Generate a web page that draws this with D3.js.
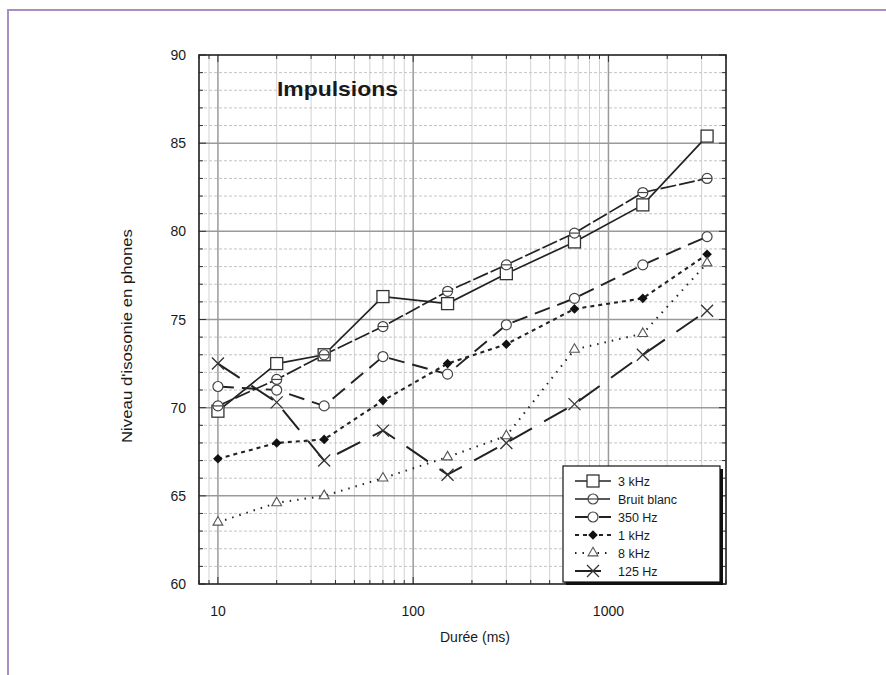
<!DOCTYPE html>
<html>
<head>
    <meta charset="utf-8">
    <title>Impulsions - niveau d'isosonie</title>
    <style>
        body { margin: 0; background: #fff; }
        text { font-family: "Liberation Sans", Arial, sans-serif; fill: #1a1a1a; }
    </style>
</head>
<body>
<script src="https://cdn.jsdelivr.net/npm/d3@7"></script>
<script>
    // Données
    var durees = [10, 20, 35, 70, 150, 300, 670, 1500, 3200];
    var serie3kHz = [69.8, 72.5, 73.0, 76.3, 75.9, 77.6, 79.4, 81.5, 85.4];
    var serieBruitBlanc = [70.1, 71.6, 73.0, 74.6, 76.6, 78.1, 79.9, 82.2, 83.0];
    var serie350Hz = [71.2, 71.0, 70.1, 72.9, 71.9, 74.7, 76.2, 78.1, 79.7];
    var serie1kHz = [67.1, 68.0, 68.2, 70.4, 72.5, 73.6, 75.6, 76.2, 78.7];
    var serie8kHz = [63.5, 64.6, 65.0, 66.0, 67.2, 68.4, 73.3, 74.2, 78.2];
    var serie125Hz = [72.5, 70.3, 67.0, 68.7, 66.2, 68.0, 70.2, 73.0, 75.5];
    var nomsSeries = ["3 kHz", "Bruit blanc", "350 Hz", "1 kHz", "8 kHz", "125 Hz"];
    var xTickLabels = [10, 100, 1000];
    var yTickLabels = [60, 65, 70, 75, 80, 85, 90];

    var width = 886,
        height = 675,
        pLeft = 199, pRight = 726, pTop = 55, pBottom = 584;

    var svg = d3.select("body").append("svg")
        .attr("width", width)
        .attr("height", height);

    // cadre violet de la page
    svg.append("path")
        .attr("d", "M8,675 L8,10 L886,10")
        .attr("fill", "none")
        .attr("stroke", "#a68fc2")
        .attr("stroke-width", 2);

    var x = d3.scaleLog().domain([8, 4000]).range([pLeft, pRight]);
    var y = d3.scaleLinear().domain([60, 90]).range([pBottom, pTop]);

    // grille : mineures puis majeures
    var g = svg.append("g");
    var minorX = [];
    [1, 10, 100, 1000].forEach(function(d) {
        for (var k = 2; k <= 9; k++) {
            var v = d * k;
            if (v >= 8 && v <= 4000) minorX.push(v);
        }
    });
    var minorY = d3.range(61, 90).filter(function(v) { return v % 5 != 0; });

    g.selectAll(".vmin").data(minorX).enter().append("line")
        .attr("x1", d => x(d)).attr("x2", d => x(d))
        .attr("y1", pTop).attr("y2", pBottom)
        .attr("stroke", "#d2d2d2").attr("stroke-width", 1);
    g.selectAll(".hmin").data(minorY).enter().append("line")
        .attr("x1", pLeft).attr("x2", pRight)
        .attr("y1", d => y(d)).attr("y2", d => y(d))
        .attr("stroke", "#c4c4c4").attr("stroke-width", 1)
        .attr("stroke-dasharray", "3,2");
    g.selectAll(".vmaj").data(xTickLabels).enter().append("line")
        .attr("x1", d => x(d)).attr("x2", d => x(d))
        .attr("y1", pTop).attr("y2", pBottom)
        .attr("stroke", "#9a9a9a").attr("stroke-width", 1.5);
    g.selectAll(".hmaj").data([65, 70, 75, 80, 85]).enter().append("line")
        .attr("x1", pLeft).attr("x2", pRight)
        .attr("y1", d => y(d)).attr("y2", d => y(d))
        .attr("stroke", "#9a9a9a").attr("stroke-width", 1.5);

    // graduations intérieures sur les quatre côtés
    var ticksY = d3.range(60, 91);
    g.selectAll(".tl").data(ticksY).enter().append("line")
        .attr("x1", pLeft).attr("x2", d => pLeft + (d % 5 == 0 ? 7 : 4))
        .attr("y1", d => y(d)).attr("y2", d => y(d))
        .attr("stroke", "#333");
    g.selectAll(".tr").data(ticksY).enter().append("line")
        .attr("x1", pRight).attr("x2", d => pRight - (d % 5 == 0 ? 7 : 4))
        .attr("y1", d => y(d)).attr("y2", d => y(d))
        .attr("stroke", "#333");
    var ticksX = minorX.concat(xTickLabels);
    g.selectAll(".tb").data(ticksX).enter().append("line")
        .attr("x1", d => x(d)).attr("x2", d => x(d))
        .attr("y1", pBottom).attr("y2", d => pBottom - (xTickLabels.indexOf(d) >= 0 ? 7 : 4))
        .attr("stroke", "#333");
    g.selectAll(".tt").data(ticksX).enter().append("line")
        .attr("x1", d => x(d)).attr("x2", d => x(d))
        .attr("y1", pTop).attr("y2", d => pTop + (xTickLabels.indexOf(d) >= 0 ? 7 : 4))
        .attr("stroke", "#333");

    svg.append("rect")
        .attr("x", pLeft).attr("y", pTop)
        .attr("width", pRight - pLeft).attr("height", pBottom - pTop)
        .attr("fill", "none").attr("stroke", "#222").attr("stroke-width", 1.6);

    // étiquettes des axes
    svg.selectAll(".ylab").data(yTickLabels).enter().append("text")
        .attr("x", 186).attr("y", d => y(d) + 5)
        .attr("text-anchor", "end")
        .style("font-size", "14px")
        .text(d => d);
    svg.selectAll(".xlab").data(xTickLabels).enter().append("text")
        .attr("x", d => x(d)).attr("y", 616)
        .attr("text-anchor", "middle")
        .style("font-size", "14px")
        .text(d => d);
    svg.append("text")
        .attr("x", 475).attr("y", 642)
        .attr("text-anchor", "middle")
        .style("font-size", "14px")
        .text("Durée (ms)");
    svg.append("text")
        .attr("transform", "translate(132,336) rotate(-90)")
        .attr("text-anchor", "middle")
        .attr("textLength", 214)
        .attr("lengthAdjust", "spacingAndGlyphs")
        .style("font-size", "14px")
        .text("Niveau d'isosonie en phones");
    svg.append("text")
        .attr("x", 277).attr("y", 96)
        .attr("textLength", 121)
        .attr("lengthAdjust", "spacingAndGlyphs")
        .style("font-size", "21px").style("font-weight", "bold")
        .text("Impulsions");

    // styles des séries
    var styles = [
        {valeurs: serie3kHz, dash: null, w: 1.7, marker: "square"},
        {valeurs: serieBruitBlanc, dash: "16,3", w: 1.7, marker: "circleLine"},
        {valeurs: serie350Hz, dash: "16,8", w: 1.9, marker: "circle"},
        {valeurs: serie1kHz, dash: "4,4", w: 2.1, marker: "diamond"},
        {valeurs: serie8kHz, dash: "1.5,6", w: 2, marker: "triangle"},
        {valeurs: serie125Hz, dash: "26,14", w: 2, marker: "cross"}
    ];

    function drawMarker(sel, type, cx, cy) {
        if (type == "square") {
            sel.append("rect").attr("x", cx - 6).attr("y", cy - 6)
                .attr("width", 12).attr("height", 12)
                .attr("fill", "#fff").attr("stroke", "#333").attr("stroke-width", 1.3);
        } else if (type == "circle" || type == "circleLine") {
            sel.append("circle").attr("cx", cx).attr("cy", cy).attr("r", 5)
                .attr("fill", "#fff").attr("stroke", "#444").attr("stroke-width", 1.2);
            if (type == "circleLine")
                sel.append("line").attr("x1", cx - 5).attr("x2", cx + 5)
                    .attr("y1", cy).attr("y2", cy).attr("stroke", "#444").attr("stroke-width", 1.2);
        } else if (type == "diamond") {
            sel.append("path").attr("transform", "translate(" + cx + "," + cy + ") rotate(45)")
                .attr("d", d3.symbol().type(d3.symbolSquare).size(46)())
                .attr("fill", "#111");
        } else if (type == "triangle") {
            sel.append("path").attr("transform", "translate(" + cx + "," + cy + ")")
                .attr("d", d3.symbol().type(d3.symbolTriangle).size(42)())
                .attr("fill", "#fff").attr("stroke", "#555").attr("stroke-width", 1.1);
        } else if (type == "cross") {
            sel.append("path")
                .attr("d", "M" + (cx - 6) + "," + (cy - 6) + "L" + (cx + 6) + "," + (cy + 6) +
                    "M" + (cx - 6) + "," + (cy + 6) + "L" + (cx + 6) + "," + (cy - 6))
                .attr("stroke", "#333").attr("stroke-width", 1.3);
        }
    }

    var line = d3.line()
        .x(d => x(d[0]))
        .y(d => y(d[1]));

    var plot = svg.append("g");
    styles.forEach(function(s) {
        var pts = durees.map((d, i) => [d, s.valeurs[i]]);
        plot.append("path")
            .datum(pts)
            .attr("d", line)
            .attr("fill", "none")
            .attr("stroke", "#222")
            .attr("stroke-width", s.w)
            .attr("stroke-dasharray", s.dash);
    });
    styles.forEach(function(s) {
        durees.forEach(function(d, i) {
            drawMarker(plot, s.marker, x(d), y(s.valeurs[i]));
        });
    });

    // légende
    var lx = 563, ly = 466, lw = 157, lh = 116;
    svg.append("rect").attr("x", lx + 3).attr("y", ly + 3)
        .attr("width", lw).attr("height", lh).attr("fill", "#111");
    svg.append("rect").attr("x", lx).attr("y", ly)
        .attr("width", lw).attr("height", lh)
        .attr("fill", "#fff").attr("stroke", "#111").attr("stroke-width", 1.2);
    var leg = svg.append("g");
    nomsSeries.forEach(function(nom, i) {
        var yy = ly + 15 + i * 18;
        var s = styles[i];
        leg.append("line")
            .attr("x1", lx + 12).attr("x2", lx + 48)
            .attr("y1", yy).attr("y2", yy)
            .attr("stroke", "#222").attr("stroke-width", s.w)
            .attr("stroke-dasharray", s.dash);
        drawMarker(leg, s.marker, lx + 30, yy);
        leg.append("text")
            .attr("x", lx + 55).attr("y", yy + 4.5)
            .style("font-size", "12.5px")
            .text(nom);
    });
</script>
</body>
</html>
